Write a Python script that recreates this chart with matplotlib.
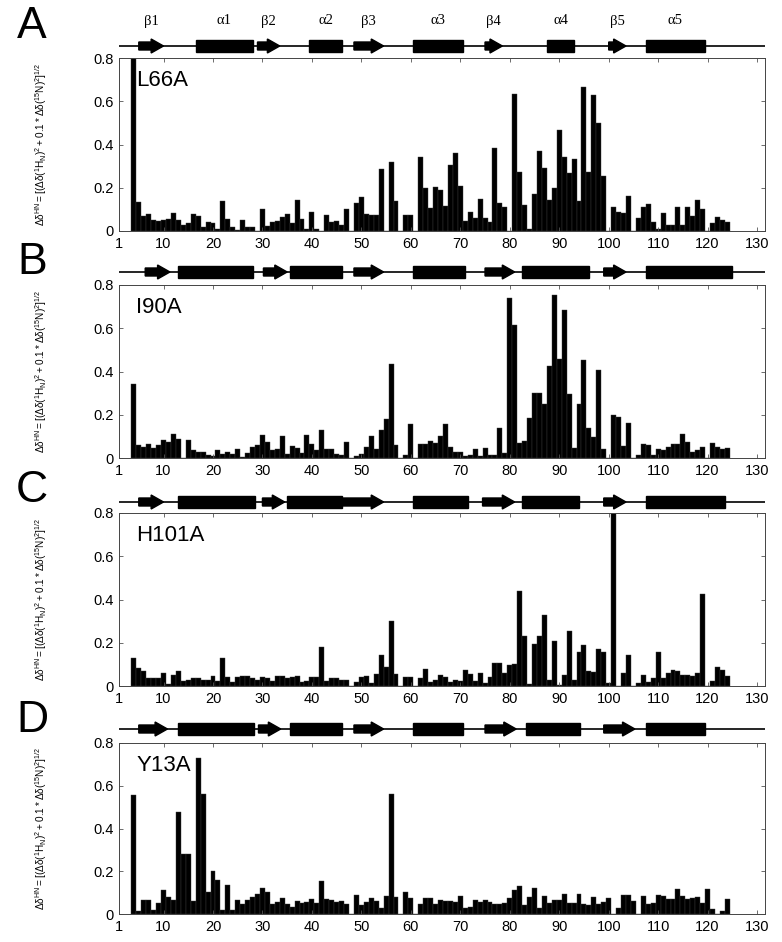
import numpy as np
from matplotlib import pyplot as plt
from matplotlib.patches import Rectangle, FancyArrow

plt.rcParams['font.family'] = ['Liberation Sans', 'DejaVu Sans']
plt.rcParams['mathtext.default'] = 'regular'

# residues 4..124, one value per residue (0 = no data)
residues = np.arange(4, 125)

l66a = [0.80, 0.135, 0.07, 0.08, 0.05, 0.045, 0.05, 0.055, 0.085, 0.05,
        0.03, 0.035, 0.08, 0.07, 0.02, 0.04, 0.035, 0.01, 0.14, 0.055,
        0.02, 0.005, 0.05, 0.02, 0.02, 0.0, 0.10, 0.025, 0.04, 0.045,
        0.065, 0.08, 0.035, 0.145, 0.055, 0.01, 0.09, 0.01, 0.0, 0.075,
        0.04, 0.045, 0.03, 0.10, 0.0, 0.13, 0.155, 0.08, 0.075, 0.075,
        0.285, 0.0, 0.32, 0.14, 0.0, 0.075, 0.075, 0.0, 0.34, 0.20,
        0.105, 0.205, 0.19, 0.115, 0.305, 0.36, 0.21, 0.045, 0.09, 0.06,
        0.15, 0.06, 0.04, 0.385, 0.13, 0.11, 0.0, 0.635, 0.275, 0.12,
        0.01, 0.17, 0.37, 0.29, 0.145, 0.20, 0.465, 0.34, 0.27, 0.335,
        0.14, 0.665, 0.275, 0.63, 0.50, 0.255, 0.0, 0.11, 0.09, 0.085,
        0.16, 0.0, 0.06, 0.11, 0.125, 0.04, 0.01, 0.085, 0.03, 0.03,
        0.11, 0.03, 0.11, 0.07, 0.145, 0.10, 0.0, 0.035, 0.065, 0.05,
        0.04]

i90a = [0.34, 0.06, 0.05, 0.065, 0.045, 0.06, 0.085, 0.075, 0.11, 0.09,
        0.0, 0.085, 0.035, 0.03, 0.03, 0.015, 0.01, 0.035, 0.02, 0.03,
        0.02, 0.04, 0.005, 0.025, 0.05, 0.06, 0.105, 0.075, 0.035, 0.04,
        0.10, 0.02, 0.055, 0.045, 0.025, 0.105, 0.065, 0.035, 0.13, 0.04,
        0.04, 0.02, 0.015, 0.075, 0.0, 0.01, 0.02, 0.05, 0.10, 0.04,
        0.13, 0.18, 0.435, 0.06, 0.0, 0.015, 0.155, 0.0, 0.065, 0.065,
        0.08, 0.07, 0.10, 0.155, 0.05, 0.03, 0.03, 0.01, 0.015, 0.04,
        0.01, 0.045, 0.015, 0.015, 0.14, 0.025, 0.74, 0.615, 0.07, 0.08,
        0.185, 0.30, 0.30, 0.25, 0.425, 0.755, 0.46, 0.685, 0.295, 0.045,
        0.25, 0.455, 0.14, 0.095, 0.405, 0.04, 0.0, 0.20, 0.19, 0.055,
        0.16, 0.0, 0.015, 0.065, 0.06, 0.015, 0.04, 0.035, 0.05, 0.065,
        0.065, 0.11, 0.075, 0.03, 0.035, 0.05, 0.0, 0.07, 0.05, 0.04,
        0.045]

h101a = [0.13, 0.085, 0.07, 0.035, 0.035, 0.035, 0.06, 0.01, 0.05, 0.07,
         0.025, 0.03, 0.035, 0.035, 0.03, 0.03, 0.045, 0.025, 0.13, 0.04,
         0.02, 0.04, 0.045, 0.045, 0.035, 0.03, 0.04, 0.035, 0.025, 0.045,
         0.045, 0.035, 0.04, 0.045, 0.02, 0.025, 0.04, 0.04, 0.18, 0.025,
         0.035, 0.035, 0.03, 0.03, 0.0, 0.02, 0.04, 0.045, 0.015, 0.055,
         0.145, 0.09, 0.30, 0.055, 0.0, 0.04, 0.04, 0.0, 0.035, 0.08,
         0.02, 0.03, 0.05, 0.04, 0.02, 0.03, 0.025, 0.075, 0.055, 0.025,
         0.06, 0.015, 0.04, 0.105, 0.105, 0.06, 0.095, 0.10, 0.44, 0.23,
         0.01, 0.195, 0.23, 0.33, 0.03, 0.21, 0.005, 0.05, 0.255, 0.03,
         0.155, 0.19, 0.07, 0.065, 0.17, 0.155, 0.015, 0.80, 0.0, 0.06,
         0.145, 0.0, 0.015, 0.05, 0.02, 0.035, 0.155, 0.035, 0.06, 0.075,
         0.07, 0.05, 0.05, 0.045, 0.06, 0.425, 0.0, 0.025, 0.09, 0.075,
         0.045]

y13a = [0.555, 0.015, 0.065, 0.065, 0.02, 0.05, 0.11, 0.08, 0.065, 0.475,
        0.28, 0.28, 0.06, 0.73, 0.56, 0.105, 0.20, 0.16, 0.02, 0.135,
        0.02, 0.065, 0.045, 0.065, 0.08, 0.095, 0.12, 0.105, 0.045, 0.055,
        0.075, 0.045, 0.035, 0.06, 0.05, 0.055, 0.07, 0.05, 0.155, 0.07,
        0.065, 0.055, 0.06, 0.045, 0.0, 0.09, 0.04, 0.055, 0.075, 0.06,
        0.03, 0.085, 0.56, 0.08, 0.0, 0.105, 0.075, 0.0, 0.045, 0.075,
        0.075, 0.045, 0.065, 0.06, 0.06, 0.055, 0.085, 0.03, 0.035, 0.065,
        0.055, 0.065, 0.055, 0.045, 0.045, 0.05, 0.075, 0.11, 0.13, 0.04,
        0.08, 0.12, 0.03, 0.085, 0.05, 0.065, 0.065, 0.095, 0.05, 0.05,
        0.095, 0.045, 0.04, 0.08, 0.045, 0.055, 0.075, 0.0, 0.03, 0.09,
        0.09, 0.06, 0.0, 0.085, 0.045, 0.05, 0.09, 0.085, 0.07, 0.07,
        0.115, 0.085, 0.07, 0.075, 0.08, 0.05, 0.115, 0.025, 0.0, 0.015,
        0.07]

mutants = ['L66A', 'I90A', 'H101A', 'Y13A']
panel_letters = ['A', 'B', 'C', 'D']
shifts = [l66a, i90a, h101a, y13a]

# secondary structure: (kind, first residue, last residue); E = strand, H = helix
ss_labels = ['β1', 'α1', 'β2', 'α2', 'β3', 'α3', 'β4', 'α4', 'β5', 'α5']
ss_a = [('E', 5, 10), ('H', 16.5, 28), ('E', 29, 33.5), ('H', 39.5, 46),
        ('E', 48.5, 54.5), ('H', 60.5, 70.5), ('E', 75, 78.5), ('H', 87.5, 93),
        ('E', 100, 103.5), ('H', 107.5, 119.5)]
ss_b = [('E', 6.3, 11.3), ('H', 13, 28), ('E', 30.2, 35), ('H', 35.5, 46),
        ('E', 48.5, 54.5), ('H', 60.5, 71), ('E', 75, 81), ('H', 82.5, 96),
        ('E', 99, 103.5), ('H', 107.5, 125)]
ss_c = [('E', 5, 10), ('H', 13, 28.5), ('E', 30, 34.5), ('H', 35, 46),
        ('E', 46.2, 54.5), ('H', 60.5, 71.5), ('E', 74.5, 81), ('H', 82.5, 94),
        ('E', 99, 103.5), ('H', 107.5, 123.5)]
ss_d = [('E', 5, 10.8), ('H', 13, 28.2), ('E', 29.2, 33.7), ('H', 35.5, 46),
        ('E', 48.5, 54.5), ('H', 60.5, 70.5), ('E', 75, 81.3), ('H', 83.3, 94.3),
        ('E', 99, 105.3), ('H', 107.5, 119.5)]
structures = [ss_a, ss_b, ss_c, ss_d]

xticks = [1, 10, 20, 30, 40, 50, 60, 70, 80, 90, 100, 110, 120, 130]
yticks = [0, 0.2, 0.4, 0.6, 0.8]
ytick_labels = ['0', '0.2', '0.4', '0.6', '0.8']

ylabel = (r'$\Delta\delta^{HN} = [(\Delta\delta(^{1}H_{N})^{2} + '
          r'0.1*\Delta\delta(^{15}N)^{2}]^{1/2}$')


def main():
    W, H = 782, 942
    fig = plt.figure(figsize=(W / 100, H / 100), dpi=100)
    xlim = (1, 131.6)
    left, width = 119 / W, 646 / W
    # pixel rows: axes top, axes bottom, structure line, letter centre
    tops = [58, 285, 513, 743]
    bottoms = [231, 458, 686, 914]
    ss_rows = [46, 272, 502, 729]
    letter_rows = [27, 263, 491, 721]

    for i in range(4):
        ax = fig.add_axes([left, 1 - bottoms[i] / H, width,
                           (bottoms[i] - tops[i]) / H])
        ax.bar(residues, shifts[i], width=1.0, color='black',
               edgecolor='#3a3a3a', linewidth=0.3)
        ax.set_xlim(xlim)
        ax.set_ylim(0, 0.8)
        ax.set_xticks(xticks)
        ax.set_xticklabels([str(t) for t in xticks])
        ax.set_yticks(yticks)
        ax.set_yticklabels(ytick_labels)
        ax.tick_params(direction='in', top=True, right=True, length=3,
                       width=0.6, labelsize=10.5, pad=4, color='#555555')
        for sp in ax.spines.values():
            sp.set_linewidth(0.7)
            sp.set_color('#444444')
        ax.text(0.027, 0.87, mutants[i], transform=ax.transAxes,
                fontsize=16, ha='left', va='center')

        fig.text(41 / W, 1 - (tops[i] + bottoms[i]) / 2 / H, ylabel,
                 rotation=90, fontsize=7.2, ha='center', va='center')
        fig.text(32 / W, 1 - letter_rows[i] / H, panel_letters[i],
                 fontsize=32, ha='center', va='center')

        # secondary structure strip
        sax = fig.add_axes([left, 1 - (ss_rows[i] + 13) / H, width, 26 / H])
        sax.set_xlim(xlim)
        sax.set_ylim(-1.3, 1.3)
        sax.axis('off')
        sax.plot(xlim, [0, 0], color='black', linewidth=1.2)
        for j, (kind, start, end) in enumerate(structures[i]):
            if kind == 'H':
                sax.add_patch(Rectangle((start, -0.6), end - start, 1.2,
                                        facecolor='black', edgecolor='black'))
            else:
                sax.add_patch(FancyArrow(start, 0, end - start, 0, width=0.8,
                                         head_width=1.4, head_length=2.5,
                                         length_includes_head=True,
                                         color='black'))
            if i == 0:
                fig.text(left + width * ((start + end) / 2 - xlim[0])
                         / (xlim[1] - xlim[0]), 1 - 21 / H, ss_labels[j],
                         fontsize=10.5, family='Liberation Serif',
                         ha='center', va='center')

    fig.savefig('out.png', dpi=100)


if __name__ == "__main__":
    main()
